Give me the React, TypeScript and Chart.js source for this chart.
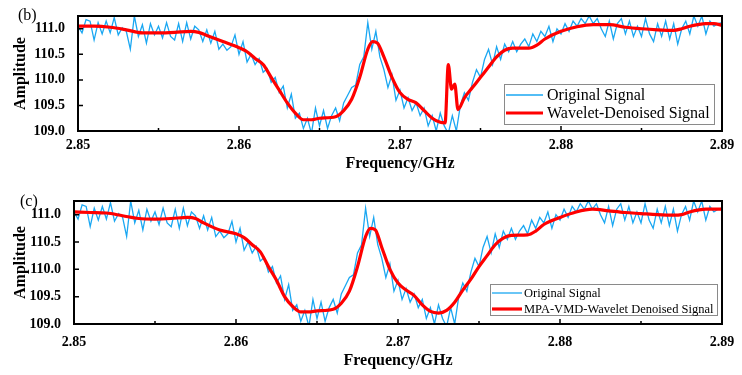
import React, { useEffect, useRef } from "react";
import { Chart, registerables } from "chart.js";
Chart.register(...registerables);

// ---------- DATA ----------
const freqStart = 2.85;
const freqStep = 0.00025;
const originalSignal = [
  111.05, 110.92, 111.18, 111.15,
  110.78, 111.12, 110.9, 111.15,
  110.92, 111.22, 110.88, 111.02,
  110.95, 110.6, 111.25, 110.85,
  111.08, 110.72, 111.1, 110.88,
  111.05, 110.82, 111.12, 110.85,
  110.78, 111.1, 110.75, 111.12,
  110.8, 111.05, 110.98, 110.75,
  110.98, 110.72, 110.95, 110.6,
  110.7, 110.58, 110.65, 110.88,
  110.5, 110.75, 110.35, 110.5,
  110.3, 110.42, 110.15, 110.22,
  109.95, 110.05, 109.75, 109.88,
  109.45, 109.72, 109.25, 109.35,
  109.05, 109.25, 108.95, 109.45,
  109.1, 109.4, 109.05, 109.3,
  109.45, 109.2, 109.55, 109.7,
  109.85, 109.9, 110.3, 110.45,
  111.12, 110.6, 110.95, 110.45,
  110.2, 109.85, 110.1, 109.6,
  109.8, 109.45, 109.65, 109.4,
  109.55, 109.3, 109.45, 109.1,
  109.3, 109.0, 109.35, 109.1,
  108.95, 109.3, 109.0, 109.5,
  109.75, 109.6, 109.95, 110.2,
  110.05, 110.4, 110.6, 110.3,
  110.65, 110.4, 110.7, 110.55,
  110.75, 110.55, 110.7, 110.8,
  110.65, 110.9, 110.75, 110.95,
  110.85, 111.05, 110.75, 111.0,
  110.9, 111.1, 110.95, 111.15,
  111.05, 111.2, 111.1, 111.25,
  111.1, 111.2, 111.0, 110.85,
  111.15, 110.8, 111.1, 111.2,
  110.9, 111.15, 110.85, 111.05,
  110.85, 111.2, 110.9, 110.75,
  111.1, 110.85, 111.15, 110.8,
  111.1, 110.7, 111.0, 111.15,
  110.9, 111.25, 111.05, 111.25,
  110.9, 111.15, 111.05, 111.1,
  111.12,
];

const waveletFreq = [
  2.85, 2.851, 2.852, 2.853, 2.854, 2.855, 2.856, 2.857, 2.8575, 2.858, 2.859, 2.86, 2.8605,
  2.861, 2.8615, 2.862, 2.8625, 2.863, 2.8635, 2.864, 2.8645, 2.865, 2.866, 2.8665, 2.867,
  2.8675, 2.868, 2.8683, 2.8686, 2.869, 2.8695, 2.87, 2.8705, 2.871, 2.8715, 2.872, 2.8725,
  2.8728, 2.873, 2.8732, 2.8734, 2.8736, 2.874, 2.8745, 2.875, 2.8755, 2.876, 2.8765, 2.877,
  2.878, 2.8785, 2.879, 2.88, 2.881, 2.882, 2.883, 2.884, 2.885, 2.886, 2.887, 2.8875, 2.888,
  2.889, 2.8895, 2.89,
];
const waveletAmp = [
  111.05, 111.05, 111.03, 110.98, 110.92, 110.92, 110.93, 110.95, 110.93, 110.87, 110.75, 110.63, 110.55,
  110.42, 110.3, 110.05, 109.8, 109.55, 109.35, 109.22, 109.22, 109.25, 109.28, 109.4, 109.62,
  110.05, 110.6, 110.75, 110.72, 110.45, 110.05, 109.75, 109.62, 109.55, 109.4, 109.25, 109.17,
  109.16, 110.3, 109.82, 109.92, 109.42, 109.65, 109.85, 110.05, 110.25, 110.45, 110.58, 110.62,
  110.62, 110.68, 110.8, 110.95, 111.04, 111.08, 111.08, 111.03, 111.0, 110.98, 110.97, 111.0, 111.05,
  111.1, 111.1, 111.07,
];

const mpaFreq = [
  2.85, 2.851, 2.852, 2.853, 2.854, 2.855, 2.856, 2.857, 2.8575, 2.858, 2.859, 2.86, 2.8605,
  2.861, 2.8615, 2.862, 2.8625, 2.863, 2.8635, 2.864, 2.8645, 2.865, 2.866, 2.8665, 2.867,
  2.8675, 2.868, 2.8683, 2.8686, 2.869, 2.8695, 2.87, 2.8705, 2.871, 2.8715, 2.872, 2.8725,
  2.873, 2.8735, 2.874, 2.8745, 2.875, 2.8755, 2.876, 2.8765, 2.877, 2.878, 2.8785, 2.879,
  2.88, 2.881, 2.882, 2.883, 2.884, 2.885, 2.886, 2.887, 2.8875, 2.888, 2.889, 2.8895, 2.89,
];
const mpaAmp = [
  111.05, 111.04, 111.03, 110.98, 110.93, 110.92, 110.93, 110.95, 110.93, 110.85, 110.72, 110.65, 110.58,
  110.45, 110.32, 110.05, 109.8, 109.5, 109.32, 109.22, 109.22, 109.24, 109.27, 109.38, 109.6,
  110.05, 110.6, 110.75, 110.72, 110.4, 110.0, 109.75, 109.62, 109.52, 109.35, 109.23, 109.2,
  109.25, 109.4, 109.62, 109.82, 110.05, 110.25, 110.45, 110.57, 110.62, 110.63, 110.7, 110.82,
  110.95, 111.05, 111.1, 111.07, 111.04, 111.02, 111.0, 110.99, 111.0, 111.05, 111.1, 111.1, 111.1,
];

const xTicks = [2.85, 2.86, 2.87, 2.88, 2.89];
const xMinorTicks = [2.855, 2.865, 2.875, 2.885];
const yTicks = [109.0, 109.5, 110.0, 110.5, 111.0];
const xMin = 2.85;
const xMax = 2.89;
const yMin = 109.0;
const yMax = 111.25;

const originalLabel = "Original Signal";
const waveletLabel = "Wavelet-Denoised Signal";
const mpaLabel = "MPA-VMD-Wavelet Denoised Signal";

// ---------- STYLE ----------
const SERIF = "'Liberation Serif', 'Times New Roman', serif";
const BLUE = "#1aa7f2";
const RED = "#ff0000";

const framePlugin = {
  id: "frame",
  afterDatasetsDraw(chart: any) {
    const { ctx, chartArea } = chart;
    const xs = chart.scales.x;
    const ys = chart.scales.y;
    ctx.save();
    ctx.strokeStyle = "#000";
    ctx.lineWidth = 2;
    ctx.strokeRect(chartArea.left, chartArea.top, chartArea.right - chartArea.left, chartArea.bottom - chartArea.top);
    ctx.lineWidth = 1.5;
    ctx.beginPath();
    xTicks.forEach((v) => {
      const px = xs.getPixelForValue(v);
      ctx.moveTo(px, chartArea.bottom);
      ctx.lineTo(px, chartArea.bottom - 5);
    });
    xMinorTicks.forEach((v) => {
      const px = xs.getPixelForValue(v);
      ctx.moveTo(px, chartArea.bottom);
      ctx.lineTo(px, chartArea.bottom - 3);
    });
    yTicks.forEach((v) => {
      const py = ys.getPixelForValue(v);
      ctx.moveTo(chartArea.left, py);
      ctx.lineTo(chartArea.left + 5, py);
    });
    ctx.stroke();
    ctx.restore();
  },
};

const boxLegendPlugin = {
  id: "boxLegend",
  afterDraw(chart: any, _args: any, opts: any) {
    if (!opts || !opts.box) return;
    const { ctx } = chart;
    const [x1, y1, x2, y2] = opts.box;
    ctx.save();
    ctx.fillStyle = "#fff";
    ctx.fillRect(x1, y1, x2 - x1, y2 - y1);
    ctx.strokeStyle = "#8a8a8a";
    ctx.lineWidth = 1;
    ctx.strokeRect(x1 + 0.5, y1 + 0.5, x2 - x1, y2 - y1);
    ctx.font = `${opts.fontSize}px ${SERIF}`;
    ctx.textBaseline = "middle";
    ctx.fillStyle = "#000";
    chart.data.datasets.forEach((ds: any, i: number) => {
      const y = opts.rows[i];
      ctx.strokeStyle = ds.borderColor;
      ctx.lineWidth = ds.borderWidth;
      ctx.beginPath();
      ctx.moveTo(opts.lineX[0], y);
      ctx.lineTo(opts.lineX[1], y);
      ctx.stroke();
      ctx.fillText(ds.label, opts.textX, y + 1);
    });
    ctx.restore();
  },
};

type PanelProps = {
  top: number;
  height: number;
  plotLeft: number;
  plotTop: number;
  plotBottom: number;
  redLabel: string;
  redFreq: number[];
  redAmp: number[];
  legend: any;
  xTitlePad: number;
  xTickPad: number;
  tag: string;
  tagTop: number;
  tagLeft: number;
};

function Panel(p: PanelProps) {
  const ref = useRef<HTMLCanvasElement | null>(null);
  useEffect(() => {
    if (!ref.current) return;
    const blueData = originalSignal.map((v, i) => ({ x: freqStart + i * freqStep, y: v }));
    const redData = p.redFreq.map((f, i) => ({ x: f, y: p.redAmp[i] }));
    const chart = new Chart(ref.current, {
      type: "line",
      data: {
        datasets: [
          {
            label: originalLabel,
            data: blueData,
            borderColor: BLUE,
            backgroundColor: BLUE,
            borderWidth: 1.3,
            pointRadius: 0,
            tension: 0,
            order: 2,
          },
          {
            label: p.redLabel,
            data: redData,
            borderColor: RED,
            backgroundColor: RED,
            borderWidth: 3.2,
            pointRadius: 0,
            cubicInterpolationMode: "monotone",
            order: 1,
          },
        ],
      },
      options: {
        animation: false,
        responsive: false,
        maintainAspectRatio: false,
        events: [],
        layout: { padding: { left: 0, right: 742 - 722, top: p.plotTop, bottom: 0 } },
        plugins: {
          legend: { display: false },
          tooltip: { enabled: false },
          boxLegend: p.legend,
        } as any,
        scales: {
          x: {
            type: "linear",
            min: xMin,
            max: xMax,
            grid: { display: false },
            border: { display: false },
            afterBuildTicks: (s: any) => {
              s.ticks = xTicks.map((v) => ({ value: v }));
            },
            afterFit: (s: any) => {
              s.height = p.height - p.plotBottom;
            },
            ticks: {
              autoSkip: false,
              maxRotation: 0,
              padding: p.xTickPad,
              color: "#000",
              font: { family: SERIF, size: 14, weight: "bold" },
              callback: (v: any) => Number(v).toFixed(2),
            },
            title: {
              display: true,
              text: "Frequency/GHz",
              color: "#000",
              font: { family: SERIF, size: 16, weight: "bold" },
              padding: { top: 0, bottom: p.xTitlePad },
            },
          },
          y: {
            type: "linear",
            min: yMin,
            max: yMax,
            grid: { display: false },
            border: { display: false },
            afterBuildTicks: (s: any) => {
              s.ticks = yTicks.map((v) => ({ value: v }));
            },
            afterFit: (s: any) => {
              s.width = p.plotLeft;
            },
            ticks: {
              padding: 5,
              color: "#000",
              font: { family: SERIF, size: 14, weight: "bold" },
              callback: (v: any) => Number(v).toFixed(1),
            },
            title: {
              display: true,
              text: "Amplitude",
              color: "#000",
              font: { family: SERIF, size: 16, weight: "bold" },
              padding: { top: 11, bottom: 0 },
            },
          },
        },
      },
      plugins: [framePlugin, boxLegendPlugin],
    } as any);
    return () => chart.destroy();
  }, []);
  return (
    <div style={{ position: "absolute", left: 0, top: p.top, width: 742, height: p.height }}>
      <canvas ref={ref} width={742} height={p.height} style={{ display: "block", width: 742, height: p.height }} />
      <div
        style={{
          position: "absolute",
          left: p.tagLeft,
          top: p.tagTop,
          fontFamily: SERIF,
          fontSize: 16,
          lineHeight: "16px",
          color: "#000",
        }}
      >
        {p.tag}
      </div>
    </div>
  );
}

export default function App() {
  return (
    <div style={{ position: "absolute", left: 0, top: 0, width: 742, height: 375, background: "#fff", overflow: "hidden" }}>
      <Panel
        top={0}
        height={185}
        plotLeft={78}
        plotTop={16}
        plotBottom={131}
        redLabel={waveletLabel}
        redFreq={waveletFreq}
        redAmp={waveletAmp}
        legend={{ box: [504, 84, 714, 124], fontSize: 16, rows: [95, 113], lineX: [506, 543], textX: 547 }}
        xTitlePad={12}
        xTickPad={-2}
        tag="(b)"
        tagTop={7}
        tagLeft={18}
      />
      <Panel
        top={185}
        height={190}
        plotLeft={74}
        plotTop={16}
        plotBottom={139}
        redLabel={mpaLabel}
        redFreq={mpaFreq}
        redAmp={mpaAmp}
        legend={{ box: [490, 99, 717, 130], fontSize: 12.5, rows: [108, 124], lineX: [492, 522], textX: 524 }}
        xTitlePad={5}
        xTickPad={2}
        tag="(c)"
        tagTop={8}
        tagLeft={20}
      />
    </div>
  );
}
